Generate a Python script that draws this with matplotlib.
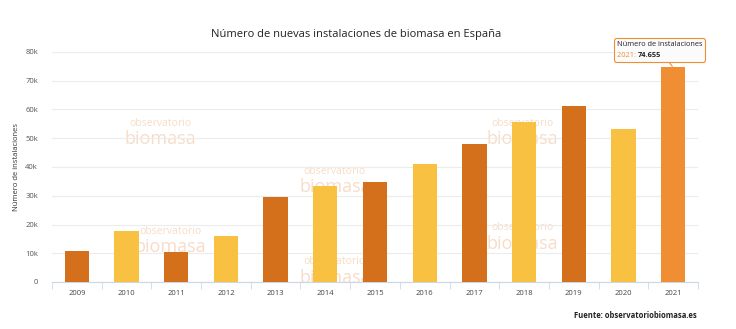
import matplotlib.pyplot as plt
from matplotlib.offsetbox import AnnotationBbox, TextArea, HPacker, VPacker
import numpy as np

years = ["2009", "2010", "2011", "2012", "2013", "2014", "2015",
         "2016", "2017", "2018", "2019", "2020", "2021"]
instalaciones = [10800, 17700, 10600, 16000, 29600, 33400, 34800,
                 41000, 48000, 55700, 61200, 53200, 74655]
bar_colors = ["#d4701c", "#f9c141"] * 6 + ["#f08e33"]

plt.rcParams['font.family'] = ['Open Sans', 'DejaVu Sans']

fig = plt.figure(figsize=(7.36, 3.29), dpi=100)
ax = fig.add_axes([52/736, 1 - 282/329, 646/736, 230/329])

x = np.arange(len(years))
ax.bar(x, instalaciones, width=0.49, color=bar_colors, zorder=3)

ax.set_xlim(-0.5, len(years) - 0.5)
ax.set_ylim(0, 80000)
ax.set_yticks(np.arange(0, 80001, 10000))
ax.set_yticklabels(["0"] + [f"{v}k" for v in range(10, 81, 10)], fontsize=5.5, color="#555555")
ax.set_xticks(x)
ax.set_xticklabels(years, fontsize=5.5, color="#444444")
ax.set_xticks(np.arange(-0.5, len(years), 1), minor=True)
ax.tick_params(axis="x", which="major", length=0, pad=6)
ax.tick_params(axis="x", which="minor", length=5, color="#ccd6eb")
ax.tick_params(axis="y", length=0, pad=10)
ax.grid(axis="y", color="#ececec", linewidth=0.8, zorder=0)
for side in ["top", "right", "left"]:
    ax.spines[side].set_visible(False)
ax.spines["bottom"].set_color("#ccd6eb")

ax.set_ylabel("Número de instalaciones", fontsize=5.5, color="#333333")
ax.yaxis.set_label_coords(-32/646, 0.5)
fig.text(356/736, 1 - 34/329, "Número de nuevas instalaciones de biomasa en España",
         ha="center", va="center", fontsize=8, color="#222222")

# faint watermarks behind the bars
marks = [(160, 135), (170, 243), (335, 183), (522, 135), (335, 274), (522, 240)]
for px, py in marks:
    ax.text(px/736, 1 - (py - 12)/329, "observatorio", fontsize=7.5, color="#f7dcc8",
            ha="center", va="center", zorder=1, transform=fig.transFigure)
    ax.text(px/736, 1 - (py + 4)/329, "biomasa", fontsize=13, color="#f7dcc8",
            ha="center", va="center", zorder=1, transform=fig.transFigure)

# tooltip on the last bar
last = len(years) - 1
tip_title = TextArea("Número de instalaciones",
                     textprops=dict(fontsize=5.3, color="#222222"))
tip_year = TextArea("2021: ", textprops=dict(fontsize=5.3, color="#f08e33"))
tip_value = TextArea(f"{instalaciones[last]/1000:.3f}",
                     textprops=dict(fontsize=5.3, color="#222222", fontweight="bold"))
tip_body = VPacker(children=[tip_title, HPacker(children=[tip_year, tip_value], pad=0, sep=0)],
                   pad=0, sep=2.5, align="left")
tip = AnnotationBbox(tip_body, (last, instalaciones[last]), xybox=(-10, 12.5),
                     boxcoords="offset points", box_alignment=(0.5, 0.5), pad=0.3,
                     bboxprops=dict(boxstyle="round,pad=0.2,rounding_size=0.15",
                                    fc="#fbfbfb", ec="#f08e33", lw=0.8),
                     arrowprops=dict(arrowstyle="-", color="#f08e33", lw=0.8,
                                     shrinkA=0, shrinkB=1),
                     zorder=7, annotation_clip=False)
ax.add_artist(tip)

fig.text(697/736, 1 - 316/329, "Fuente: observatoriobiomasa.es", fontsize=5.5,
         fontweight="bold", color="#222222", ha="right", va="center")

fig.savefig("out.png", dpi=100, facecolor="white")
